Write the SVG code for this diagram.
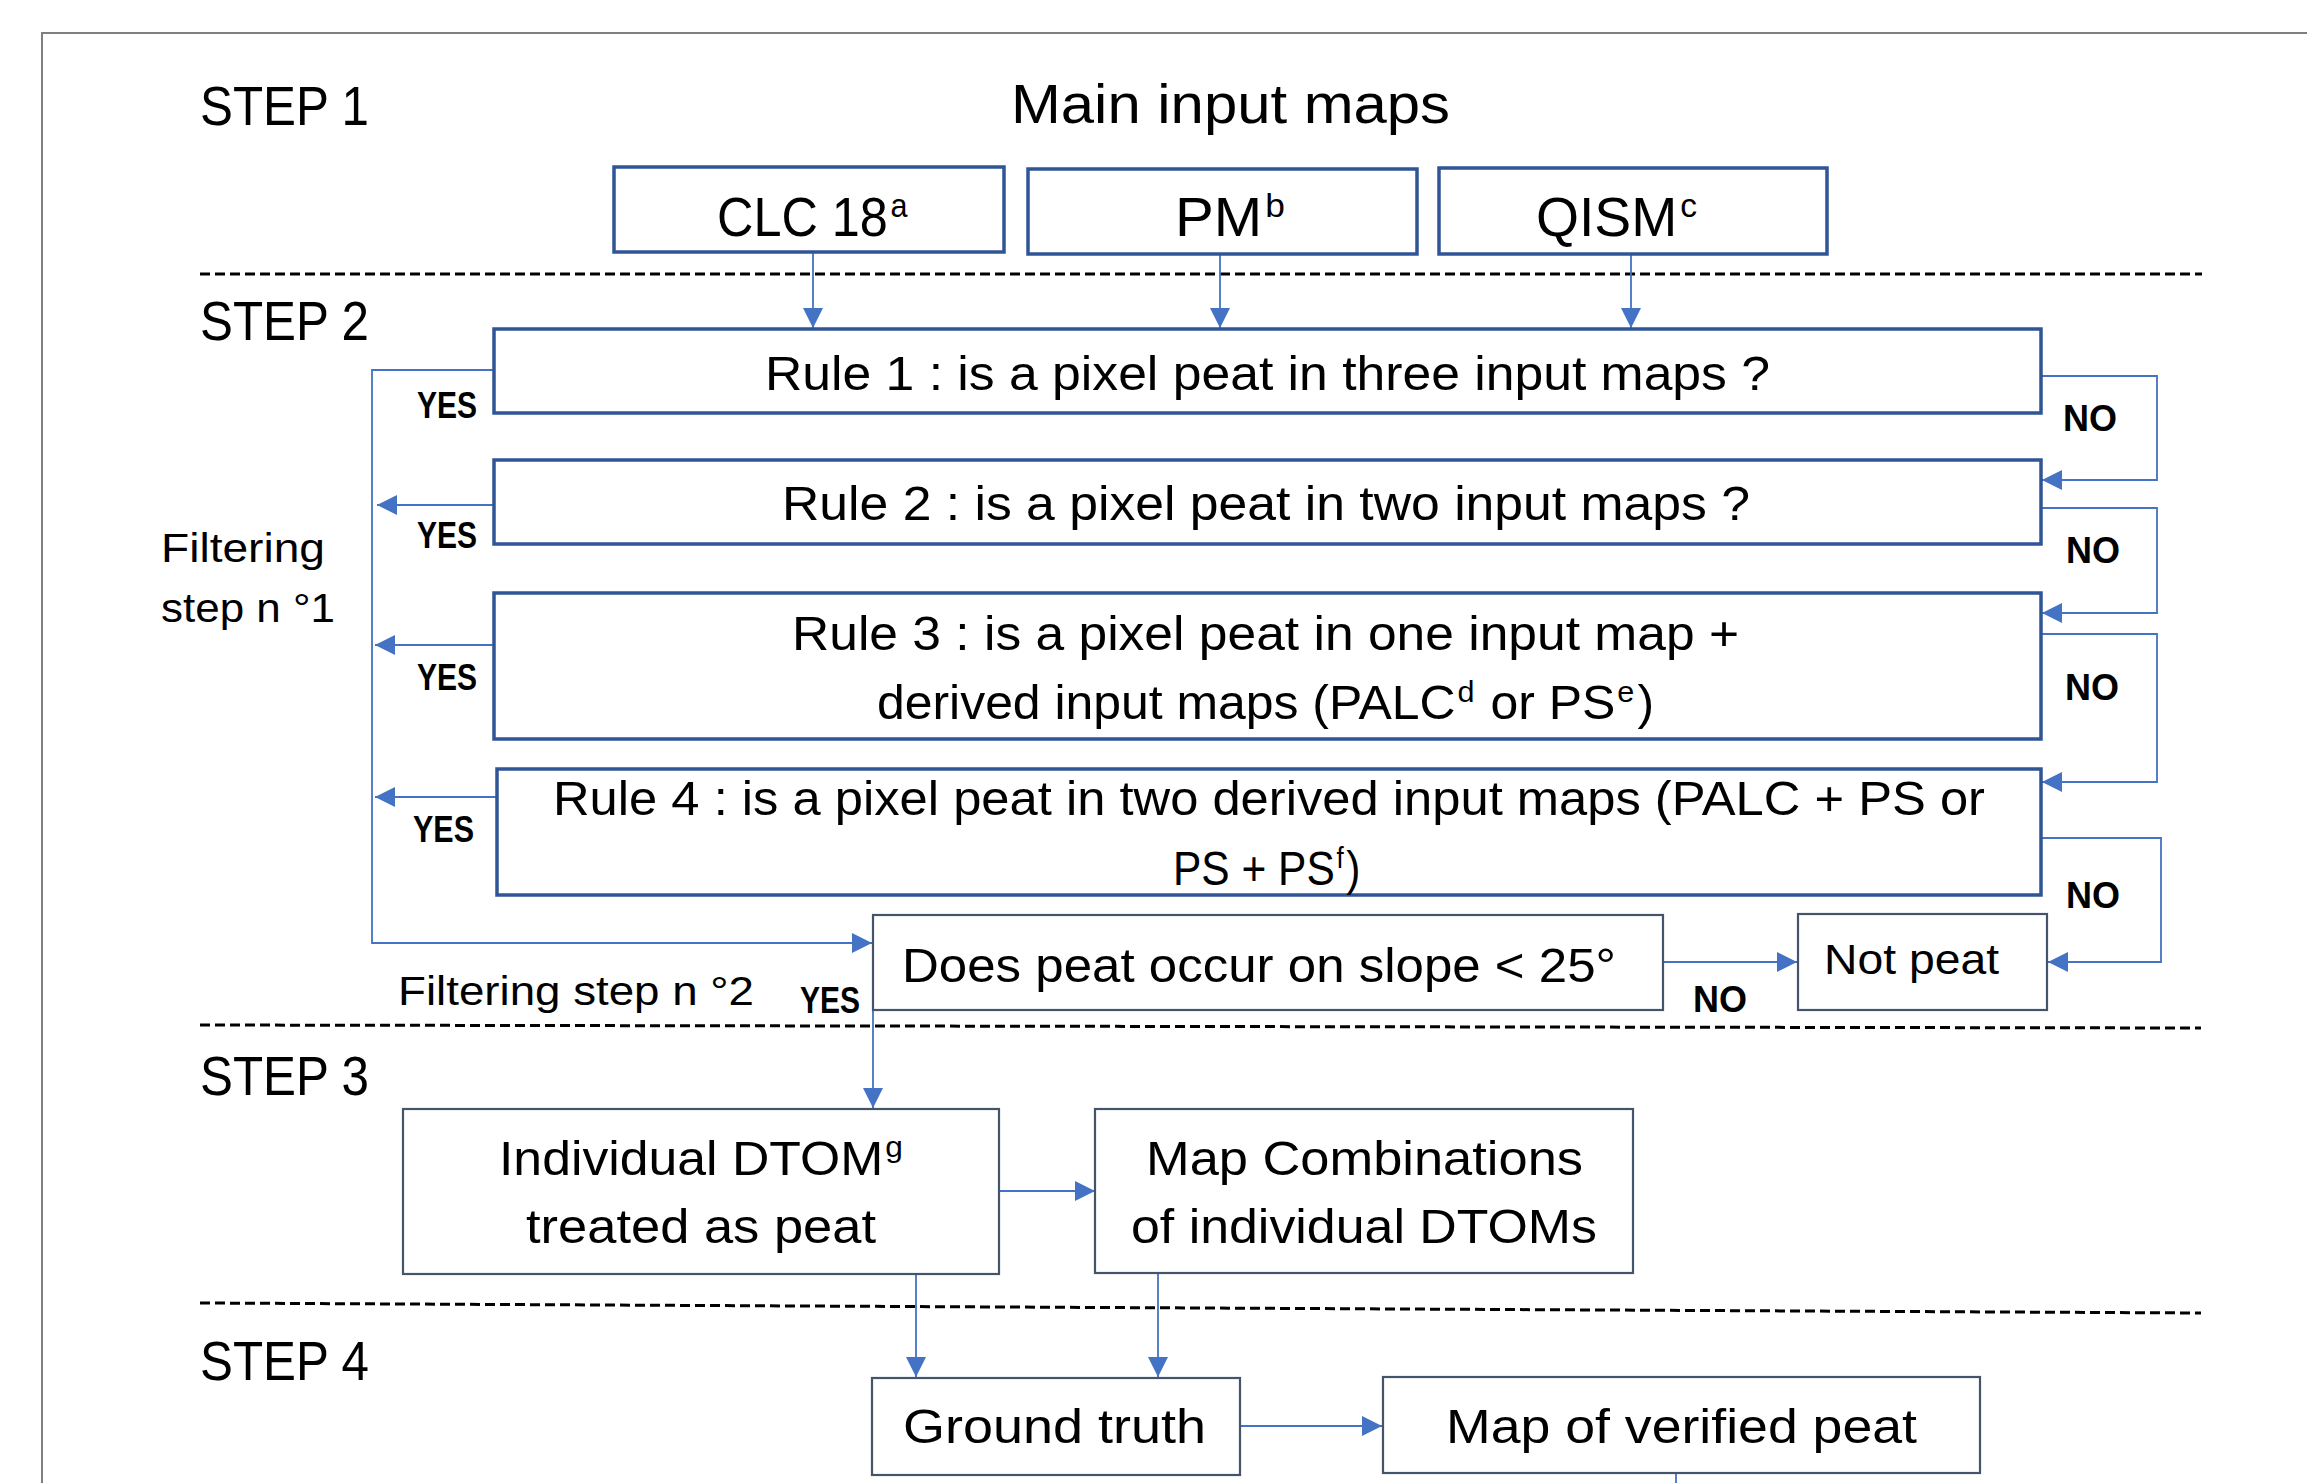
<svg xmlns="http://www.w3.org/2000/svg" width="2307" height="1483" viewBox="0 0 2307 1483">
<style>
text{font-family:"Liberation Sans",Arial,sans-serif;fill:#000}
.t56{font-size:56px}
.t49{font-size:49px}
.t43{font-size:43px}
.t41{font-size:41px}
.lbl{font-size:36px;font-weight:bold}
.sup56{font-size:34px}
.sup49{font-size:30px}
.box1{fill:#fff;stroke:#2F5597;stroke-width:3.5}
.box2{fill:#fff;stroke:#44546A;stroke-width:2.2}
.con{fill:none;stroke:#4472C4;stroke-width:1.8}
.dash{fill:none;stroke:#000;stroke-width:3;stroke-dasharray:10 5}
.frame{fill:none;stroke:#7F7F7F;stroke-width:2}
</style>
<defs>
<marker id="arr" markerUnits="userSpaceOnUse" markerWidth="20" markerHeight="20" refX="20" refY="10" orient="auto">
<path d="M0,0 L20,10 L0,20 z" fill="#4472C4"/>
</marker>
</defs>
<rect width="2307" height="1483" fill="#fff"/>
<path class="frame" d="M2307,33 H42 V1483"/>

<g id="separators">
<line class="dash" x1="200" y1="274" x2="2202" y2="274"/>
<line class="dash" x1="200" y1="1025" x2="2201" y2="1028"/>
<line class="dash" x1="200" y1="1303" x2="2201" y2="1313"/>
</g>

<g id="step-labels">
<text class="t56" x="200" y="125" textLength="169" lengthAdjust="spacingAndGlyphs">STEP 1</text>
<text class="t56" x="200" y="340" textLength="169" lengthAdjust="spacingAndGlyphs">STEP 2</text>
<text class="t56" x="200" y="1095" textLength="169" lengthAdjust="spacingAndGlyphs">STEP 3</text>
<text class="t56" x="200" y="1380" textLength="169" lengthAdjust="spacingAndGlyphs">STEP 4</text>
<text class="t56" x="1011" y="123" textLength="439" lengthAdjust="spacingAndGlyphs">Main input maps</text>
<text class="t41" x="161" y="562" textLength="164" lengthAdjust="spacingAndGlyphs">Filtering</text>
<text class="t41" x="161" y="622" textLength="174" lengthAdjust="spacingAndGlyphs">step n °1</text>
<text class="t41" x="398" y="1005" textLength="356" lengthAdjust="spacingAndGlyphs">Filtering step n °2</text>
</g>

<g id="connectors">
<path class="con" d="M813,252 V328" marker-end="url(#arr)"/>
<path class="con" d="M1220,254 V328" marker-end="url(#arr)"/>
<path class="con" d="M1631,254 V328" marker-end="url(#arr)"/>
<path class="con" d="M493,370 H372 V943 H872" marker-end="url(#arr)"/>
<path class="con" d="M493,505 H377" marker-end="url(#arr)"/>
<path class="con" d="M493,645 H375" marker-end="url(#arr)"/>
<path class="con" d="M496,797 H375" marker-end="url(#arr)"/>
<path class="con" d="M2042,376 H2157 V480 H2042" marker-end="url(#arr)"/>
<path class="con" d="M2042,508 H2157 V613 H2042" marker-end="url(#arr)"/>
<path class="con" d="M2042,634 H2157 V782 H2042" marker-end="url(#arr)"/>
<path class="con" d="M2042,838 H2161 V962 H2048" marker-end="url(#arr)"/>
<path class="con" d="M1663,962 H1797" marker-end="url(#arr)"/>
<path class="con" d="M873,1010 V1108" marker-end="url(#arr)"/>
<path class="con" d="M999,1191 H1095" marker-end="url(#arr)"/>
<path class="con" d="M916,1274 V1377" marker-end="url(#arr)"/>
<path class="con" d="M1158,1273 V1377" marker-end="url(#arr)"/>
<path class="con" d="M1240,1426 H1382" marker-end="url(#arr)"/>
<path class="con" d="M1676,1474 V1483"/>
</g>

<g id="connector-labels">
<text class="lbl" x="417" y="418" textLength="60" lengthAdjust="spacingAndGlyphs">YES</text>
<text class="lbl" x="417" y="548" textLength="60" lengthAdjust="spacingAndGlyphs">YES</text>
<text class="lbl" x="417" y="690" textLength="60" lengthAdjust="spacingAndGlyphs">YES</text>
<text class="lbl" x="413" y="842" textLength="61" lengthAdjust="spacingAndGlyphs">YES</text>
<text class="lbl" x="800" y="1013" textLength="60" lengthAdjust="spacingAndGlyphs">YES</text>
<text class="lbl" x="2063" y="431" textLength="54" lengthAdjust="spacingAndGlyphs">NO</text>
<text class="lbl" x="2066" y="563" textLength="54" lengthAdjust="spacingAndGlyphs">NO</text>
<text class="lbl" x="2065" y="700" textLength="54" lengthAdjust="spacingAndGlyphs">NO</text>
<text class="lbl" x="2066" y="908" textLength="54" lengthAdjust="spacingAndGlyphs">NO</text>
<text class="lbl" x="1693" y="1012" textLength="54" lengthAdjust="spacingAndGlyphs">NO</text>
</g>

<g id="clc18">
<rect class="box1" x="614" y="167" width="390" height="85"/>
<text class="t56" transform="matrix(0.9 0 0 1 717 236)" x="0" y="0">CLC 18<tspan class="sup56" dx="3" dy="-19">a</tspan></text>
</g>
<g id="pm">
<rect class="box1" x="1028" y="169" width="389" height="85"/>
<text class="t56" x="1175" y="236" textLength="110" lengthAdjust="spacingAndGlyphs">PM<tspan class="sup56" dx="3" dy="-19">b</tspan></text>
</g>
<g id="qism">
<rect class="box1" x="1439" y="168" width="388" height="86"/>
<text class="t56" x="1536" y="236" textLength="161" lengthAdjust="spacingAndGlyphs">QISM<tspan class="sup56" dx="3" dy="-19">c</tspan></text>
</g>

<g id="rule1">
<rect class="box1" x="494" y="329" width="1547" height="84"/>
<text class="t49" x="765" y="390" textLength="1005" lengthAdjust="spacingAndGlyphs">Rule 1 : is a pixel peat in three input maps ?</text>
</g>
<g id="rule2">
<rect class="box1" x="494" y="460" width="1547" height="84"/>
<text class="t49" x="782" y="520" textLength="968" lengthAdjust="spacingAndGlyphs">Rule 2 : is a pixel peat in two input maps ?</text>
</g>
<g id="rule3">
<rect class="box1" x="494" y="593" width="1547" height="146"/>
<text class="t49" x="792" y="650" textLength="947" lengthAdjust="spacingAndGlyphs">Rule 3 : is a pixel peat in one input map +</text>
<text class="t49" x="877" y="719" textLength="777" lengthAdjust="spacingAndGlyphs">derived input maps (PALC<tspan class="sup49" dx="2" dy="-17">d</tspan><tspan dx="2" dy="17"> or PS</tspan><tspan class="sup49" dx="2" dy="-17">e</tspan><tspan dx="3" dy="17">)</tspan></text>
</g>
<g id="rule4">
<rect class="box1" x="497" y="769" width="1544" height="126"/>
<text class="t49" x="553" y="815" textLength="1432" lengthAdjust="spacingAndGlyphs">Rule 4 : is a pixel peat in two derived input maps (PALC + PS or</text>
<text class="t49" transform="matrix(0.867 0 0 1 1173 885)" x="0" y="0">PS + PS<tspan class="sup49" dx="2" dy="-17">f</tspan><tspan dx="3" dy="17">)</tspan></text>
</g>

<g id="slope">
<rect class="box2" x="873" y="915" width="790" height="95"/>
<text class="t49" x="902" y="982" textLength="714" lengthAdjust="spacingAndGlyphs">Does peat occur on slope &lt; 25°</text>
</g>
<g id="not-peat">
<rect class="box2" x="1798" y="914" width="249" height="96"/>
<text class="t43" x="1824" y="974" textLength="175" lengthAdjust="spacingAndGlyphs">Not peat</text>
</g>

<g id="individual-dtom">
<rect class="box2" x="403" y="1109" width="596" height="165"/>
<text class="t49" x="499" y="1175" textLength="404" lengthAdjust="spacingAndGlyphs">Individual DTOM<tspan class="sup49" dx="2" dy="-18">g</tspan></text>
<text class="t49" x="526" y="1243" textLength="350" lengthAdjust="spacingAndGlyphs">treated as peat</text>
</g>
<g id="map-combinations">
<rect class="box2" x="1095" y="1109" width="538" height="164"/>
<text class="t49" x="1146" y="1175" textLength="437" lengthAdjust="spacingAndGlyphs">Map Combinations</text>
<text class="t49" x="1131" y="1243" textLength="466" lengthAdjust="spacingAndGlyphs">of individual DTOMs</text>
</g>
<g id="ground-truth">
<rect class="box2" x="872" y="1378" width="368" height="97"/>
<text class="t49" x="903" y="1443" textLength="303" lengthAdjust="spacingAndGlyphs">Ground truth</text>
</g>
<g id="map-verified">
<rect class="box2" x="1383" y="1377" width="597" height="96"/>
<text class="t49" x="1446" y="1443" textLength="471" lengthAdjust="spacingAndGlyphs">Map of verified peat</text>
</g>
</svg>
